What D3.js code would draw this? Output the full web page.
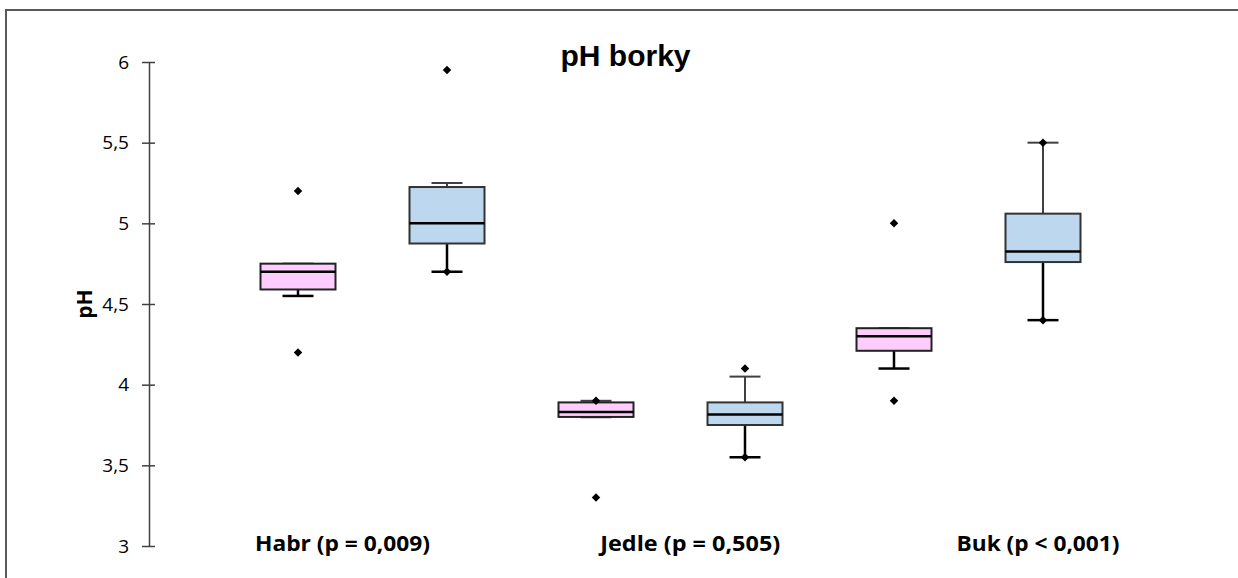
<!DOCTYPE html>
<html>
<head>
<meta charset="utf-8">
<script src="https://cdn.jsdelivr.net/npm/d3@7"></script>
<style>
  body { margin: 0; background: #fff; }
  svg { display: block; }
</style>
</head>
<body>
<svg id="chart"></svg>
<script>
// data
const groups = ["Habr", "Jedle", "Buk"];
const groupLabels = ["Habr (p = 0,009)", "Jedle (p = 0,505)", "Buk (p < 0,001)"];
const yTicks = [3, 3.5, 4, 4.5, 5, 5.5, 6];

// [whisker low, q1, median, q3, whisker high]
const pinkStats = [
  [4.55, 4.59, 4.70, 4.75, 4.75],
  [3.80, 3.80, 3.83, 3.89, 3.90],
  [4.10, 4.21, 4.30, 4.35, 4.35]
];
const blueStats = [
  [4.70, 4.875, 5.00, 5.225, 5.25],
  [3.55, 3.75, 3.815, 3.89, 4.05],
  [4.40, 4.76, 4.825, 5.06, 5.50]
];
// [min, max]
const pinkPoints = [[4.2, 5.2], [3.3, 3.9], [3.9, 5.0]];
const bluePoints = [[4.7, 5.95], [3.55, 4.1], [4.4, 5.5]];

const w = 1238;
const h = 578;
const boxW = 75;
const capW = 31;

const svg = d3.select("#chart").attr("width", w).attr("height", h);

// outer frame
svg.append("rect")
  .attr("x", 6).attr("y", 10)
  .attr("width", 1300).attr("height", 700)
  .attr("fill", "none")
  .attr("stroke", "#595959")
  .attr("stroke-width", 2);

const yScale = d3.scaleLinear().domain([3, 6]).range([546, 62]);

const boxKeys = [];
groups.forEach((g) => { boxKeys.push(g + "-a"); boxKeys.push(g + "-b"); });
const xScale = d3.scalePoint().domain(boxKeys).range([298, 1043]);
const labelScale = d3.scalePoint().domain(groups).range([342.5, 1038]);

// y axis
const yAxis = d3.axisLeft(yScale)
  .tickValues(yTicks)
  .tickFormat((d) => String(d).replace(".", ","))
  .tickSizeInner(7)
  .tickSizeOuter(0)
  .tickPadding(13);

const gy = svg.append("g")
  .attr("id", "y-axis")
  .attr("transform", "translate(149,0)")
  .call(yAxis);
gy.select(".domain").attr("stroke", "#404040").attr("stroke-width", 1.5);
gy.selectAll(".tick line").attr("x1", 6).attr("x2", -7)
  .attr("stroke", "#404040").attr("stroke-width", 1.5);
gy.selectAll(".tick text")
  .attr("font-family", "'Open Sans', sans-serif")
  .attr("font-size", 19)
  .attr("fill", "#000");

svg.append("text")
  .attr("transform", `translate(92,${yScale(4.5)}) rotate(-90)`)
  .attr("text-anchor", "middle")
  .attr("font-family", "'Open Sans', sans-serif")
  .attr("font-weight", "bold")
  .attr("font-size", 21)
  .text("pH");

// title
svg.append("text")
  .attr("x", 625.5).attr("y", 66)
  .attr("text-anchor", "middle")
  .attr("font-family", "'Liberation Sans', Arial, sans-serif")
  .attr("font-weight", "bold")
  .attr("font-size", 30)
  .text("pH borky");

// group labels
svg.selectAll(".glabel")
  .data(groups)
  .enter()
  .append("text")
  .attr("class", "glabel")
  .attr("x", (d) => labelScale(d))
  .attr("y", 551)
  .attr("text-anchor", "middle")
  .attr("font-family", "'Open Sans', sans-serif")
  .attr("font-weight", "bold")
  .attr("font-size", 21)
  .attr("textLength", (d, i) => [175, 180, 163][i])
  .attr("lengthAdjust", "spacingAndGlyphs")
  .text((d, i) => groupLabels[i]);

function drawBoxes(stats, points, suffix, fill, stroke) {
  const g = svg.append("g");
  stats.forEach((s, i) => {
    const cx = xScale(groups[i] + suffix);
    const [wLo, q1, med, q3, wHi] = s;

    // whiskers
    g.append("line")
      .attr("x1", cx).attr("x2", cx)
      .attr("y1", yScale(q3)).attr("y2", yScale(wHi))
      .attr("stroke", "#404040").attr("stroke-width", 2);
    g.append("line")
      .attr("x1", cx).attr("x2", cx)
      .attr("y1", yScale(q1)).attr("y2", yScale(wLo))
      .attr("stroke", "#000").attr("stroke-width", 2.5);
    g.append("line")
      .attr("x1", cx - capW / 2).attr("x2", cx + capW / 2)
      .attr("y1", yScale(wHi)).attr("y2", yScale(wHi))
      .attr("stroke", "#404040").attr("stroke-width", 2);
    g.append("line")
      .attr("x1", cx - capW / 2).attr("x2", cx + capW / 2)
      .attr("y1", yScale(wLo)).attr("y2", yScale(wLo))
      .attr("stroke", "#000").attr("stroke-width", 2.5);

    // box
    g.append("rect")
      .attr("x", cx - boxW / 2)
      .attr("y", yScale(q3))
      .attr("width", boxW)
      .attr("height", yScale(q1) - yScale(q3))
      .attr("fill", fill)
      .attr("stroke", stroke)
      .attr("stroke-width", 2);

    // median
    g.append("line")
      .attr("x1", cx - boxW / 2).attr("x2", cx + boxW / 2)
      .attr("y1", yScale(med)).attr("y2", yScale(med))
      .attr("stroke", "#000").attr("stroke-width", 2.5);

    // min / max markers
    points[i].forEach((v) => {
      g.append("path")
        .attr("d", d3.symbol(d3.symbolSquare, 36)())
        .attr("transform", `translate(${cx},${yScale(v)}) rotate(45)`)
        .attr("fill", "#000");
    });
  });
}

drawBoxes(pinkStats, pinkPoints, "-a", "#FECCFD", "#222");
drawBoxes(blueStats, bluePoints, "-b", "#BDD7EE", "#333");
</script>
</body>
</html>
